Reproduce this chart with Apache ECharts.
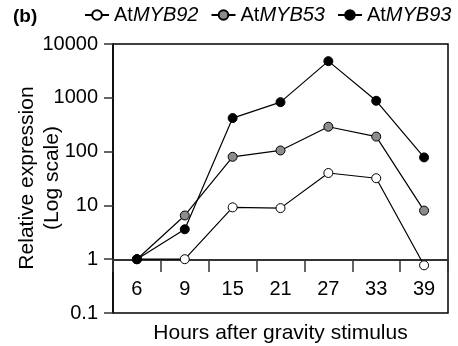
<!DOCTYPE html>
<html><head><meta charset="utf-8">
<script src="https://cdn.jsdelivr.net/npm/echarts@6/dist/echarts.min.js"></script>
<style>html,body{margin:0;padding:0;background:#fff}#c{width:458px;height:346px}</style>
</head><body><div id="c"></div>
<script>
var categories = ['6', '9', '15', '21', '27', '33', '39'];
var myb92 = [1, 1, 9.2, 8.9, 40, 32, 0.77];
var myb53 = [1, 6.5, 80, 105, 290, 190, 8];
var myb93 = [1, 3.6, 420, 830, 4800, 880, 78];
var yTickLabels = ['0.1', '1', '10', '100', '1000', '10000'];
var seriesNames = ['AtMYB92', 'AtMYB53', 'AtMYB93'];
var yNameLines = ['Relative expression', '(Log scale)'];

var F = '"Liberation Sans", Arial, sans-serif';
var chart = echarts.init(document.getElementById('c'), null, {renderer: 'canvas'});
function mk(name, data, fill) {
  return {
    name: name, type: 'line', data: data, symbol: 'circle', symbolSize: 9,
    lineStyle: {color: '#000', width: 1.2},
    itemStyle: {color: fill, borderColor: '#000', borderWidth: 1},
    emphasis: {disabled: true}, z: 5
  };
}
chart.setOption({
  animation: false,
  title: {text: '(b)', left: 8, top: 2, textStyle: {fontFamily: F, fontSize: 19, fontWeight: 'bold', color: '#000'}},
  legend: {
    left: 84, top: 5, width: 400, padding: 0, itemWidth: 24, itemHeight: 12, itemGap: 12,
    data: seriesNames,
    formatter: function (n) { return '{a|At}{b|' + n.slice(2) + '}'; },
    textStyle: {fontFamily: F, fontSize: 20, color: '#000',
      rich: {a: {fontFamily: F, fontSize: 20, color: '#000'}, b: {fontFamily: F, fontSize: 20, fontStyle: 'italic', color: '#000'}}}
  },
  graphic: [
    {type: 'text', x: 27, y: 178, rotation: Math.PI / 2,
     style: {text: yNameLines[0], font: '21px "Liberation Sans", Arial, sans-serif', fill: '#000', align: 'center', verticalAlign: 'middle'}},
    {type: 'text', x: 52, y: 178, rotation: Math.PI / 2,
     style: {text: yNameLines[1], font: '21px "Liberation Sans", Arial, sans-serif', fill: '#000', align: 'center', verticalAlign: 'middle'}}
  ],
  grid: {left: 113, right: 10, top: 44, bottom: 33, outerBoundsMode: 'none', containLabel: false, show: true, borderColor: '#000', borderWidth: 1.5, backgroundColor: 'transparent'},
  xAxis: {
    type: 'category', data: categories, boundaryGap: true, position: 'bottom', offset: -53,
    axisLine: {show: true, onZero: false, lineStyle: {color: '#333', width: 2}},
    axisTick: {show: true, inside: false, length: 12, lineStyle: {color: '#333', width: 1.5}},
    axisLabel: {margin: 19, fontFamily: F, fontSize: 20, color: '#000'},
    name: 'Hours after gravity stimulus', nameLocation: 'middle', nameGap: 63,
    nameTextStyle: {fontFamily: F, fontSize: 21, color: '#000'}
  },
  yAxis: {
    type: 'log', logBase: 10, min: 0.1, max: 10000,
    axisLine: {show: true, lineStyle: {color: '#000', width: 1.5}},
    axisTick: {show: true, inside: false, length: 9, lineStyle: {color: '#333', width: 1.5}},
    axisLabel: {margin: 15, fontFamily: F, fontSize: 20, color: '#000',
      formatter: function (v) { return yTickLabels[Math.round(Math.log10(v)) + 1]; }},
    splitLine: {show: false}
  },
  series: [mk(seriesNames[0], myb92, '#ffffff'), mk(seriesNames[1], myb53, '#8c8c8c'), mk(seriesNames[2], myb93, '#000000')]
});
</script></body></html>
